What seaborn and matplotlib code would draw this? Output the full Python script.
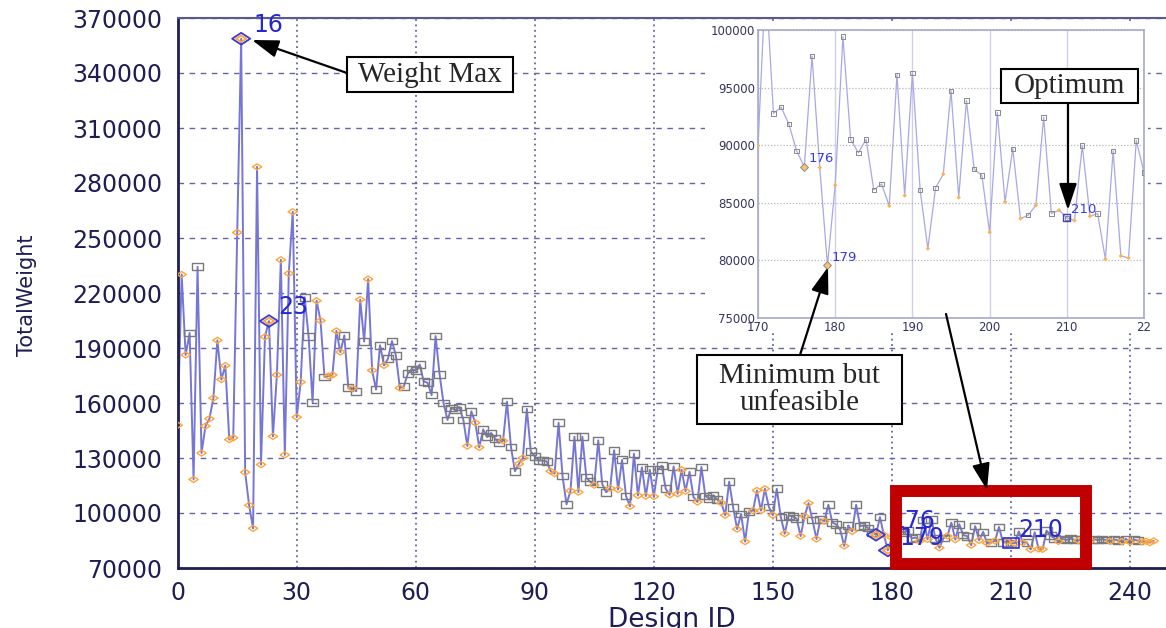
import numpy as np
import pandas as pd
import matplotlib
matplotlib.use('Agg')
from matplotlib import pyplot as plt
import seaborn as sns
from matplotlib.path import Path
from matplotlib.patches import Rectangle, FancyArrowPatch
from matplotlib.ticker import MultipleLocator, FixedLocator

# ---- data ----
total_weight = [
    147900, 230100, 186200, 198200, 118300, 234300, 132700, 147400, 151400, 162700,
    194200, 172800, 180400, 140000, 141000, 253000, 358700, 122200, 104200, 91600,
    288800, 126400, 196100, 204700, 141800, 175300, 238100, 131700, 230700, 264300,
    152300, 171400, 217700, 196100, 160400, 215800, 204900, 174100, 174700, 175300,
    199300, 187800, 196900, 168500, 168000, 166400, 216400, 193500, 227600, 177800,
    167300, 191500, 180500, 184200, 193800, 185800, 168200, 169100, 176000, 178500,
    177800, 181000, 171800, 171000, 164300, 196500, 175700, 160000, 150800, 157300,
    156200, 157800, 150800, 136500, 155500, 149200, 135800, 145600, 141400, 143700,
    140500, 138300, 139400, 160700, 136000, 122800, 126800, 130000, 156800, 133500,
    130900, 128700, 128500, 128200, 122800, 121500, 149200, 120100, 104700, 112100,
    141600, 111400, 141600, 119200, 117000, 115200, 139600, 115800, 111300, 113500,
    134200, 112800, 129000, 109200, 103600, 132300, 109600, 124900, 109200, 123600,
    109000, 123600, 125800, 113200, 109900, 125400, 110500, 123600, 111900, 122500,
    108700, 106000, 125100, 109200, 108000, 109600, 107400, 105600, 98800, 117100,
    103100, 91200, 99500, 84400, 100900, 101300, 112300, 101300, 113200, 103300,
    98800, 113200, 97900, 88700, 98800, 98000, 97000, 87400, 98200, 105400,
    96100, 85800, 96600, 95500, 104500, 94800, 93700, 90700, 82000, 93200,
    89950, 104500, 92760, 93300, 91830, 89510, 88120, 97740, 88060, 79580,
    86530, 99420, 90500, 89340, 90500, 86120, 86640, 84730, 96120, 85630,
    96290, 86120, 81030, 86300, 87490, 94730, 85460, 93890, 87920, 87370,
    82450, 92840, 85080, 89690, 83630, 83920, 84790, 92410, 84070, 84360,
    83690, 83460, 89980, 83830, 84070, 80100, 89510, 80390, 80210, 90410,
    87630, 86200, 84500, 85800, 85300, 86000, 85400, 85000, 85600, 85200,
    84900, 85600, 85300, 85800, 85200, 84600, 85500, 85100, 84400, 85900,
    84200, 85400, 85000, 84300, 84600, 83800, 84800,
]
# F = feasible (grey square), I = infeasible (orange diamond)
status_codes = list(
    "IIIFIFIIII" "IIIIIIIIII" "IIIIIIIIII" "IIFFFIIFII" "IIFFIFIFII"
    "FFIFFFIFFF" "FFFFFFFFFF" "FFFIFIIFFF" "FFIFFFIIFF" "FFFFIIFFFI"
    "FIFFFIFFFI" "FIFFIFIFIF" "IFFFIFIIIF" "FIFFFFFIIF" "FIFIFIIIIF"
    "IFFIFFFIII" "FIFIFFFFIF" "IFFFFFIFII" "IFFFFFFIFI" "FFIFIFIFFF"
    "IFIFIFIFFI" "FIFIFIFIIF" "FFIFFFFIFF" "IFFFFIFFIF" "IFFIIII"
)
main_labels = [16, 23, 176, 179]
optimum_id = 210
inset_labels = [176, 179, 210]
main_yticks = [70000, 100000, 130000, 160000, 190000, 220000, 250000, 280000, 310000, 340000, 370000]
inset_xticks = [170, 180, 190, 200, 210, 220]
inset_xticklabels = ["170", "180", "190", "200", "210", "22"]

df = pd.DataFrame({'design_id': np.arange(len(total_weight)),
                   'total_weight': total_weight,
                   'status': status_codes})
feas = df[df['status'] == 'F']
infeas = df[df['status'] == 'I']
hl = df[df['design_id'].isin(main_labels)]
opt = df[df['design_id'] == optimum_id]

W, H = 1166, 628
def fx(px):
    return px / W
def fy(py):
    return 1 - py / H

navy = '#1E1E55'
blue = '#2626D2'
orange = '#FFA53A'
grey = '#7A7A7A'

rect_m = Path([(-1, -0.65), (1, -0.65), (1, 0.65), (-1, 0.65), (-1, -0.65)], closed=True)
diam_m = Path([(-1, 0), (0, 0.65), (1, 0), (0, -0.65), (-1, 0)], closed=True)

sns.set_style('white')
plt.rcParams['font.family'] = ['DejaVu Sans']

fig = plt.figure(figsize=(11.66, 6.28), dpi=100)

# ---- main chart ----
ax = fig.add_axes([fx(177.7), fy(568), fx(1166) - fx(177.7), fy(18) - fy(568)])
ax.set_zorder(0)
sns.lineplot(data=df, x='design_id', y='total_weight', ax=ax, color='#7676D4', lw=1.4, zorder=2)
sns.scatterplot(data=feas, x='design_id', y='total_weight', ax=ax, marker=rect_m, s=55,
                color='none', edgecolor=grey, linewidth=1.0, zorder=3)
sns.scatterplot(data=infeas, x='design_id', y='total_weight', ax=ax, marker=diam_m, s=45,
                color='none', edgecolor=orange, linewidth=1.0, zorder=3)
sns.scatterplot(data=hl, x='design_id', y='total_weight', ax=ax, marker=diam_m, s=170,
                color='none', edgecolor='#3A3AD8', linewidth=1.3, zorder=4)
sns.scatterplot(data=hl, x='design_id', y='total_weight', ax=ax, marker=diam_m, s=60,
                color='none', edgecolor=orange, linewidth=1.0, zorder=4)
sns.scatterplot(data=opt, x='design_id', y='total_weight', ax=ax, marker=rect_m, s=140,
                color='none', edgecolor='#3A3AD8', linewidth=1.3, zorder=4)

label_offsets = {16: (12, 14), 23: (9, 14), 176: (14, 14), 179: (12, 12), 210: (7, 13)}
for did, (dx, dy) in label_offsets.items():
    ax.annotate(str(did), (did, total_weight[did]), xytext=(dx, dy), textcoords='offset pixels',
                ha='left', va='center', fontsize=17, color=blue, zorder=6)

ax.set_xlim(0, 249.1)
ax.set_ylim(70000, 370000)
ax.xaxis.set_major_locator(MultipleLocator(30))
ax.xaxis.set_minor_locator(MultipleLocator(15))
ax.yaxis.set_major_locator(FixedLocator(main_yticks))
ax.yaxis.set_minor_locator(MultipleLocator(15000, offset=10000))
ax.tick_params(axis='y', which='both', direction='out', length=6, width=1.5, color=navy,
               labelsize=17, labelcolor=navy, pad=5)
ax.tick_params(axis='x', which='both', direction='inout', length=8, width=1.5, color=navy,
               labelsize=17, labelcolor=navy, pad=5)
ax.yaxis.grid(True, which='major', ls=(0, (4, 4)), color='#6464A8', lw=1)
ax.xaxis.grid(True, which='major', ls=(0, (1, 2)), color='#6464A8', lw=1.3)
for side in ['left', 'bottom']:
    ax.spines[side].set_color(navy)
    ax.spines[side].set_linewidth(2)
ax.spines['top'].set_color('#5A5A90')
ax.spines['top'].set_linewidth(1.5)
ax.spines['right'].set_visible(False)

ax.set_ylabel('TotalWeight', fontsize=15, color=navy)
ax.yaxis.set_label_coords(-0.1528, 0.496)
ax.yaxis.label.set_va('center')
ax.set_xlabel('Design ID', fontsize=19, color=navy)
ax.xaxis.set_label_coords(0.5, -0.071)

# white backdrop of the pasted zoom picture
fig.add_artist(Rectangle((fx(705), fy(332)), fx(1148) - fx(705), fy(22) - fy(332),
                         transform=fig.transFigure, facecolor='white', edgecolor='none', zorder=1))

# ---- inset ----
axin = fig.add_axes([fx(758), fy(318), fx(1144) - fx(758), fy(30) - fy(318)])
axin.set_zorder(2)
axin.set_facecolor('white')
sns.lineplot(data=df, x='design_id', y='total_weight', ax=axin, color='#A8A8E6', lw=0.9, zorder=2)
sns.scatterplot(data=feas, x='design_id', y='total_weight', ax=axin, marker='s', s=10,
                color='none', edgecolor='#8A8A8A', linewidth=0.7, zorder=3)
sns.scatterplot(data=infeas, x='design_id', y='total_weight', ax=axin, marker='D', s=5,
                color='#FFB24A', edgecolor='none', zorder=3)
sns.scatterplot(data=df[df['design_id'].isin([176, 179])], x='design_id', y='total_weight', ax=axin,
                marker='D', s=16, color='#FFC070', edgecolor='#8A8A8A', linewidth=0.7, zorder=4)
sns.scatterplot(data=opt, x='design_id', y='total_weight', ax=axin, marker='s', s=26,
                color='none', edgecolor='#4040C0', linewidth=1.0, zorder=4)
for did in inset_labels:
    axin.annotate(str(did), (did, total_weight[did]), xytext=(4, 8), textcoords='offset pixels',
                  ha='left', va='center', fontsize=9.5, color='#3A3AE8', zorder=6)

axin.set_xlim(170, 220)
axin.set_ylim(75000, 100000)
axin.xaxis.set_major_locator(FixedLocator(inset_xticks))
axin.set_xticklabels(inset_xticklabels)
axin.xaxis.set_minor_locator(MultipleLocator(2))
axin.yaxis.set_major_locator(MultipleLocator(5000))
axin.yaxis.set_minor_locator(MultipleLocator(1000))
axin.tick_params(which='both', direction='in', length=2.5, width=0.8, color='#A8A8D0',
                 labelsize=8.5, labelcolor='#33335F', pad=2)
axin.yaxis.grid(True, which='major', ls=(0, (1, 1.5)), color='#B8B8B8', lw=0.9)
axin.xaxis.grid(True, which='major', ls='-', color='#CFCFEA', lw=1)
for side in axin.spines:
    axin.spines[side].set_color('#A8A8D0')
    axin.spines[side].set_linewidth(1.2)
axin.set_xlabel('')
axin.set_ylabel('')

# ---- call-outs ----
serif = ['Liberation Serif', 'DejaVu Serif']
boxes = [((347, 57, 513, 92), 'Weight Max'),
         ((697, 355, 902, 424), 'Minimum but\nunfeasible'),
         ((1001, 69, 1138, 103), 'Optimum')]
for (x0, y0, x1, y1), txt in boxes:
    fig.add_artist(Rectangle((fx(x0), fy(y1)), fx(x1) - fx(x0), fy(y0) - fy(y1),
                             transform=fig.transFigure, facecolor='white', edgecolor='black',
                             lw=1.5, zorder=10))
    fig.text(fx((x0 + x1) / 2), fy((y0 + y1) / 2), txt, ha='center', va='center',
             fontsize=21, family=serif, linespacing=1.05, zorder=11)

arrows = [((347, 73), (252, 40)), ((800, 355), (828, 267)),
          ((1068, 103), (1068, 210)), ((946, 314), (987, 490))]
for (xa, ya), (xb, yb) in arrows:
    fig.add_artist(FancyArrowPatch((fx(xa), fy(ya)), (fx(xb), fy(yb)), transform=fig.transFigure,
                                   arrowstyle='-|>,head_length=0.9,head_width=0.3', mutation_scale=18,
                                   color='black', lw=1.6, shrinkA=0, shrinkB=0, zorder=12))

fig.add_artist(Rectangle((fx(895.5), fy(564)), fx(1086) - fx(895.5), fy(491) - fy(564),
                         transform=fig.transFigure, fill=False, edgecolor='#C00000', lw=8.6, zorder=9))

fig.savefig('out.png', dpi=100)
